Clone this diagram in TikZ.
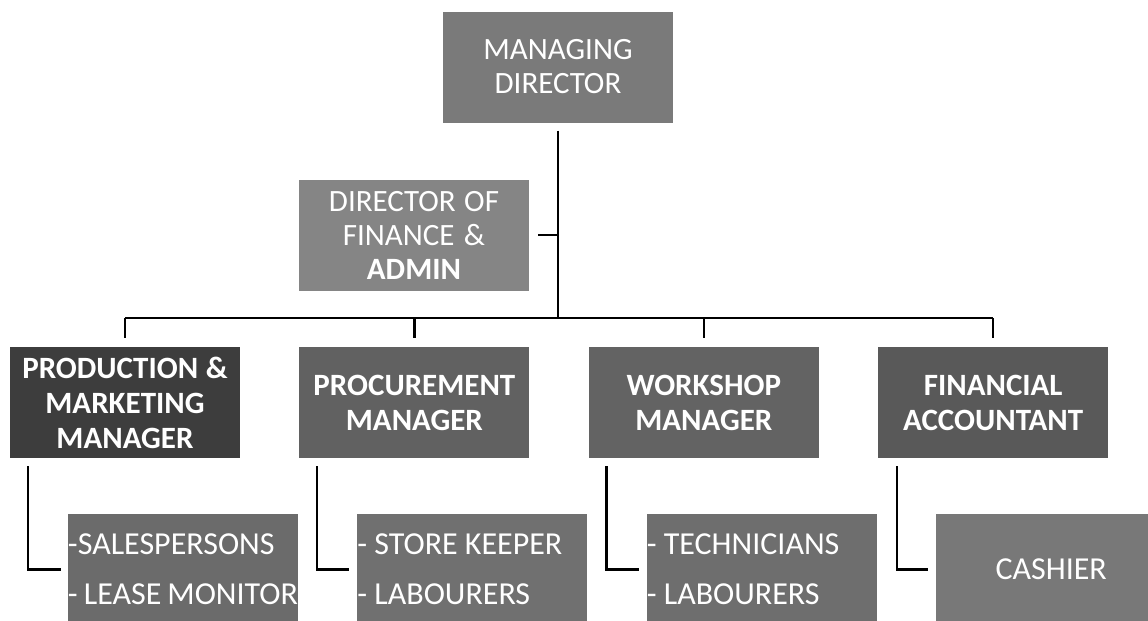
\documentclass[tikz,border=0pt]{standalone}
\usepackage{fontspec}
\setmainfont{Carlito}
\usetikzlibrary{positioning}
\begin{document}
\begin{tikzpicture}[node distance={28.5pt}, line width=1.2pt,
    main/.style = {draw=none, text=white, text width=113pt, inner xsep=1pt, inner ysep=0pt,
        minimum height=55.5pt, align=center, font=\fontsize{15.5pt}{17pt}\selectfont,
        execute at begin node={\spaceskip=0pt\xspaceskip=0pt\hyphenpenalty=10000\relax}},
    head/.style = {main, font=\fontsize{15.5pt}{17.5pt}\selectfont\bfseries},
    staff/.style = {main, text width=115pt, inner xsep=0pt, align=left, font=\fontsize{16pt}{25pt}\selectfont}]
    \useasboundingbox (0,0) rectangle (574pt,-310.5pt);
    \clip (0,0) rectangle (574pt,-310.5pt);

    \node[main, fill=black!52] (md)  at (279pt,-33.5pt)   {MANAGING\\DIRECTOR};
    \node[main, fill=black!48] (dof) at (207pt,-117.5pt)  {DIRECTOR OF\\FINANCE \&\\\textbf{ADMIN}};

    \node[head, fill=black!76] (prod) at (62.5pt,-201.25pt) {PRODUCTION \&\\MARKETING\\MANAGER};
    \node[head, fill=black!62] (proc) [right=of prod]       {PROCUREMENT\\MANAGER};
    \node[head, fill=black!61] (work) [right=of proc]       {WORKSHOP\\MANAGER};
    \node[head, fill=black!65] (fin)  [right=of work]       {FINANCIAL\\ACCOUNTANT};

    \node[staff, fill=black!58] (sales) at (91.5pt,-284.75pt) {-SALESPERSONS\\-~LEASE~MONITOR};
    \node[staff, fill=black!56] (store) [right=of sales]      {-~STORE~KEEPER\\-~LABOURERS};
    \node[staff, fill=black!57] (tech)  [right=of store]      {-~TECHNICIANS\\-~LABOURERS};
    \node[staff, fill=black!53, align=center] (cash) [right=of tech] {CASHIER};

    \coordinate (bus) at (md.south |- 0,-159pt);
    \draw ([yshift=-3.5pt]md.south) -- (bus);
    \draw ([xshift=4pt]dof.east) -- (dof.east -| bus);
    \draw (prod.north |- bus) -- (fin.north |- bus);
    \foreach \n in {prod,proc,work,fin}
        \draw (\n.north |- bus) -- ([yshift=4pt]\n.north);

    \draw ([xshift=9.5pt,yshift=-3.5pt]prod.south west) |- ([xshift=-3pt]sales.west);
    \draw ([xshift=9.5pt,yshift=-3.5pt]proc.south west) |- ([xshift=-3.5pt]store.west);
    \draw ([xshift=9.5pt,yshift=-3.5pt]work.south west) |- ([xshift=-3.5pt]tech.west);
    \draw ([xshift=10pt,yshift=-3.5pt]fin.south west)   |- ([xshift=-3.5pt]cash.west);
\end{tikzpicture}
\end{document}
